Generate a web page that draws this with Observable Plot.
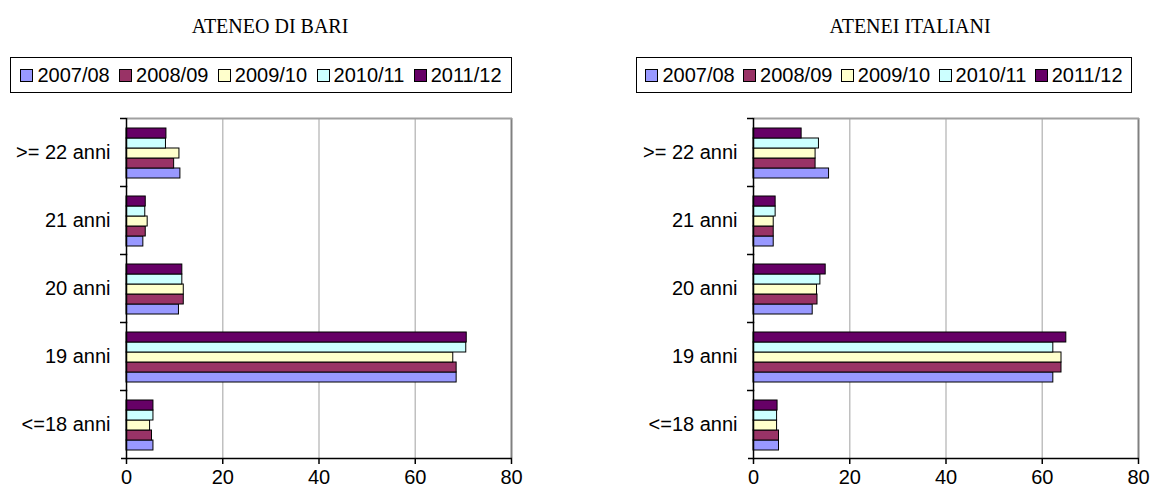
<!DOCTYPE html>
<html>
<head>
<meta charset="utf-8">
<script src="https://cdn.jsdelivr.net/npm/d3@7"></script>
<script src="https://cdn.jsdelivr.net/npm/@observablehq/plot@0.6"></script>
<style>
  body { margin: 0; background: #fff; }
  #root { position: relative; width: 1151px; height: 496px; overflow: hidden; background: #fff; }
  .title { position: absolute; font-family: 'Liberation Serif', 'Times New Roman', serif; font-size: 20px; color: #000; transform: translateX(-50%); white-space: nowrap; }
  .legend { position: absolute; height: 36px; border: 1.5px solid #000; box-sizing: border-box; display: flex; align-items: center; justify-content: space-evenly; font-family: 'Liberation Sans', Arial, sans-serif; font-size: 20px; color: #000; background: #fff; }
  .legend .item { display: flex; align-items: center; white-space: nowrap; }
  .legend .sw { width: 11px; height: 11px; border: 1px solid #000; margin-right: 4px; }
  .plot { position: absolute; top: 100px; }
</style>
</head>
<body>
<div id="root"></div>
<script>
const categories = [">= 22 anni", "21 anni", "20 anni", "19 anni", "<=18 anni"];
const years = ["2007/08", "2008/09", "2009/10", "2010/11", "2011/12"];
const colors = ["#9999ff", "#993366", "#ffffcc", "#ccffff", "#660066"];
const xTicks = [0, 20, 40, 60, 80];

// ATENEO DI BARI (values per category, in order of `categories`)
const bari0708 = [11.2, 3.5, 10.9, 68.6, 5.6];
const bari0809 = [9.9, 4.0, 11.9, 68.6, 5.3];
const bari0910 = [11.0, 4.4, 11.9, 67.9, 4.9];
const bari1011 = [8.2, 3.9, 11.6, 70.6, 5.6];
const bari1112 = [8.3, 4.0, 11.6, 70.7, 5.6];

// ATENEI ITALIANI
const ita0708 = [15.7, 4.2, 12.3, 62.3, 5.3];
const ita0809 = [12.9, 4.2, 13.3, 64.0, 5.3];
const ita0910 = [12.9, 4.2, 13.2, 64.0, 4.9];
const ita1011 = [13.6, 4.6, 13.9, 62.3, 4.9];
const ita1112 = [10.0, 4.6, 15.0, 65.0, 5.0];

const panels = [
  {title: "ATENEO DI BARI", series: [bari0708, bari0809, bari0910, bari1011, bari1112],
   left: 0, width: 575, ml: 126, mr: 64, titleX: 270, legendX: 10, legendW: 502},
  {title: "ATENEI ITALIANI", series: [ita0708, ita0809, ita0910, ita1011, ita1112],
   left: 575, width: 576, ml: 178, mr: 13, titleX: 910, legendX: 636, legendW: 496}
];

const root = document.getElementById("root");
const H = 396, MT = 18, MB = 38;
const band = (H - MT - MB) / categories.length;
const TICK = 6;

for (const p of panels) {
  const t = document.createElement("div");
  t.className = "title";
  t.style.left = p.titleX + "px";
  t.style.top = "15px";
  t.textContent = p.title;
  root.appendChild(t);

  const lg = document.createElement("div");
  lg.className = "legend";
  lg.style.left = p.legendX + "px";
  lg.style.top = "57px";
  lg.style.width = p.legendW + "px";
  years.forEach((y, i) => {
    const it = document.createElement("div");
    it.className = "item";
    const sw = document.createElement("div");
    sw.className = "sw";
    sw.style.background = colors[i];
    it.appendChild(sw);
    it.appendChild(document.createTextNode(y));
    lg.appendChild(it);
  });
  root.appendChild(lg);

  const data = [];
  years.forEach((yr, j) => categories.forEach((c, i) => data.push({cat: c, year: yr, value: p.series[j][i]})));

  const plotW = p.width - p.ml - p.mr;
  const first = categories[0], last = categories[categories.length - 1];

  const svg = Plot.plot({
    width: p.width, height: H,
    marginLeft: p.ml, marginRight: p.mr, marginTop: MT, marginBottom: MB,
    style: {fontFamily: "'Liberation Sans', Arial, sans-serif", fontSize: "20px", background: "transparent", color: "#000", overflow: "visible"},
    x: {domain: [0, 80]},
    fy: {domain: categories, padding: 0},
    y: {domain: years.slice().reverse(), paddingInner: 0, paddingOuter: 0.68, align: 0.55, axis: null},
    color: {domain: years, range: colors},
    marks: [
      Plot.gridX({ticks: xTicks.slice(1, -1), stroke: "#c0c0c0", strokeOpacity: 1, strokeWidth: 1.5}),
      Plot.ruleX([xTicks[xTicks.length - 1]], {stroke: "#808080", strokeWidth: 2}),
      // top border of the plot area
      Plot.axisFy({anchor: "right", ticks: [first], tickSize: plotW, dx: -plotW, dy: -band / 2, stroke: "#a0a0a0", strokeWidth: 2, tickFormat: () => "", label: null}),
      Plot.barX(data, {fy: "cat", y: "year", x: "value", fill: "year", stroke: "#000", strokeWidth: 1}),
      Plot.frame({anchor: "left", stroke: "#000", strokeWidth: 1.5}),
      // bottom axis line (with the left tick at the bottom category boundary)
      Plot.axisFy({anchor: "right", ticks: [last], tickSize: plotW + TICK, dx: -plotW - TICK, dy: band / 2, stroke: "#000", strokeWidth: 1.5, tickFormat: () => "", label: null}),
      Plot.axisFy({anchor: "left", tickSize: 0, tickPadding: 16, label: null}),
      Plot.axisFy({anchor: "left", tickSize: TICK, tickFormat: () => "", dy: -band / 2, strokeWidth: 1.5, label: null}),
      Plot.axisX({ticks: xTicks, tickSize: TICK, tickPadding: 5, strokeWidth: 1.5, label: null})
    ]
  });
  svg.classList.add("plot");
  svg.style.left = p.left + "px";
  root.appendChild(svg);
}
</script>
</body>
</html>
